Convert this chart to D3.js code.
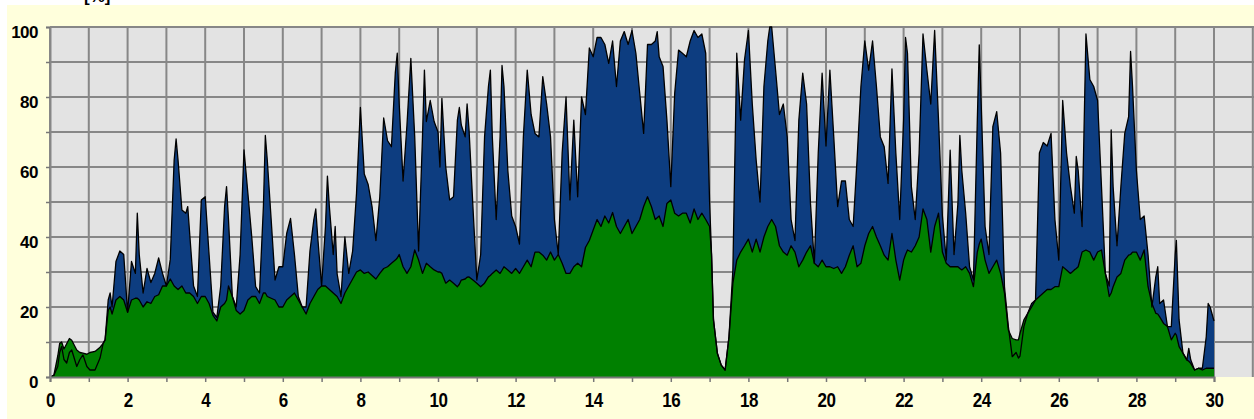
<!DOCTYPE html>
<html>
<head>
<meta charset="utf-8">
<script src="https://cdn.jsdelivr.net/npm/d3@7"></script>
<style>
  html, body { margin: 0; padding: 0; background: #fff; overflow: hidden; }
</style>
</head>
<body>
<div id="chart"></div>
<script>
// --- data --------------------------------------------------------------
// x position (0..30) of every sample, then the two stacked series
const hours = [
  0, 0.1, 0.2, 0.25, 0.3, 0.36, 0.43, 0.5, 0.56, 0.69, 0.77, 0.85, 0.95, 1.03, 1.16, 1.29, 1.37, 1.42,
  1.5, 1.55, 1.6, 1.7, 1.8, 1.9, 2.0, 2.1, 2.2, 2.25, 2.3, 2.4, 2.5, 2.6, 2.7, 2.8, 2.9,
  3.0, 3.1, 3.2, 3.25, 3.3, 3.4, 3.5, 3.55, 3.6, 3.7, 3.8, 3.9, 4.0, 4.1, 4.2, 4.3, 4.4,
  4.5, 4.55, 4.6, 4.7, 4.8, 4.9, 5.0, 5.1, 5.2, 5.3, 5.4, 5.5, 5.55, 5.6, 5.7, 5.8, 5.9,
  6.0, 6.1, 6.2, 6.3, 6.4, 6.5, 6.6, 6.7, 6.8, 6.85, 6.9, 7.0, 7.1, 7.15, 7.2, 7.3, 7.35, 7.4,
  7.5, 7.6, 7.7, 7.8, 7.9, 8.0, 8.1, 8.2, 8.3, 8.4, 8.5, 8.6, 8.7, 8.8, 8.9, 8.95,
  9.0, 9.1, 9.2, 9.3, 9.4, 9.5, 9.6, 9.65, 9.7, 9.8, 9.9, 10.0, 10.05, 10.1, 10.2, 10.3, 10.4,
  10.5, 10.55, 10.6, 10.7, 10.75, 10.8, 10.9, 11.0, 11.1, 11.2, 11.3, 11.35, 11.4, 11.5, 11.6, 11.65, 11.7, 11.8, 11.9,
  12.0, 12.1, 12.2, 12.3, 12.4, 12.5, 12.6, 12.7, 12.8, 12.9, 13.0, 13.1, 13.2, 13.3, 13.4,
  13.5, 13.6, 13.7, 13.8, 13.9, 14.0, 14.1, 14.2, 14.3, 14.4, 14.5, 14.6, 14.7, 14.8, 14.9,
  15.0, 15.1, 15.2, 15.3, 15.4, 15.5, 15.6, 15.65, 15.7, 15.8, 15.9, 16.0, 16.1, 16.2, 16.3, 16.4,
  16.5, 16.6, 16.7, 16.8, 16.9, 17.0, 17.05, 17.1, 17.2, 17.3, 17.4, 17.5, 17.6, 17.7, 17.8, 17.9,
  18.0, 18.1, 18.2, 18.3, 18.4, 18.5, 18.55, 18.6, 18.7, 18.8, 18.9, 19.0, 19.1, 19.2, 19.3, 19.4,
  19.5, 19.6, 19.7, 19.8, 19.9, 20.0, 20.1, 20.2, 20.3, 20.4, 20.5, 20.6, 20.7, 20.8, 20.9,
  21.0, 21.1, 21.2, 21.3, 21.4, 21.5, 21.6, 21.7, 21.8, 21.9, 22.0, 22.05, 22.1, 22.2, 22.3, 22.4,
  22.5, 22.6, 22.7, 22.8, 22.9, 23.0, 23.1, 23.2, 23.3, 23.4, 23.45, 23.5, 23.6, 23.7, 23.8, 23.9, 23.95,
  24.0, 24.1, 24.2, 24.3, 24.4, 24.5, 24.6, 24.7, 24.8, 24.9, 24.96, 25.0, 25.1, 25.2, 25.3, 25.4,
  25.5, 25.6, 25.7, 25.8, 25.9, 26.0, 26.1, 26.2, 26.3, 26.4, 26.45, 26.5, 26.6, 26.7, 26.8, 26.9,
  27.0, 27.1, 27.2, 27.3, 27.35, 27.4, 27.5, 27.6, 27.7, 27.8, 27.85, 27.9, 28.0, 28.1, 28.2, 28.3, 28.4,
  28.5, 28.55, 28.6, 28.7, 28.8, 28.9, 29.0, 29.03, 29.1, 29.2, 29.3, 29.35, 29.4, 29.5, 29.6, 29.7, 29.8, 29.85, 29.9, 30.0
];

// upper (blue) series
const peakLoad = [
  0, 0.5, 3, 7, 8.7, 5, 4, 7, 7.7, 3, 5, 6.3, 3, 2, 2, 5.4, 9.6, 10.6,
  22, 24, 20, 33, 36, 35, 18.5, 33, 29.6, 46.8, 35, 24, 31, 27, 29.6, 34, 29.6,
  26, 33.6, 62, 68, 62, 47.7, 46.8, 48.7, 41, 26, 23, 50.6, 51.5, 35, 18.5, 17, 26,
  48.7, 54.4, 45, 23, 20, 35, 64.9, 52.5, 40, 25.8, 24, 48.7, 69, 62, 45, 27.7, 31.5,
  31.5, 41, 45.3, 35, 23, 20, 20, 36, 45, 48, 40, 26, 43, 57.4, 48.7, 35, 43, 29.5,
  23, 40, 29.6, 36, 52.5, 77, 58, 55, 48.7, 39, 51.5, 74, 67.5, 65.8, 87, 92.5,
  78, 56, 72, 91, 68.6, 36, 68.6, 87.7, 73, 79, 73, 70, 60, 79.6, 60, 50.6, 51.5,
  73.4, 77, 72, 68.6, 78, 70.6, 48.7, 27.7, 35, 68.6, 83, 87.7, 68.6, 45, 68.6, 89, 83, 59, 46,
  43, 38, 68.6, 87.7, 75, 69.6, 68.6, 85.8, 78, 68.6, 45, 35, 64, 80, 50.6,
  73.4, 51.5, 80, 75, 94, 91.5, 97, 97, 95, 89.6, 96, 83, 96, 98.7, 95,
  99, 92.5, 81, 69.6, 95, 95, 96, 98.7, 91.5, 88.7, 73.4, 54.4, 81, 93.4, 92.5, 91.5,
  96, 99, 97, 98, 92.5, 50, 35, 16.3, 6.8, 3.4, 2, 11.5, 30.6, 92.5, 73.4, 90.6,
  99, 78, 62, 50, 83, 96, 100, 100, 87.7, 75, 78, 68.6, 45, 39, 73.4, 86.8,
  78, 49.6, 32.5, 64, 86.8, 66, 87.7, 68.6, 48.7, 56, 56, 45, 43, 62, 83,
  96, 87.7, 96, 83, 68.6, 65.8, 55.3, 88, 64, 45, 73.4, 97, 92.5, 54.4, 45, 64,
  98, 87.7, 78, 99, 73.4, 46, 33.4, 64.8, 35, 49.6, 69, 59, 46.8, 31.5, 27.7, 73.4, 94.9,
  78, 43, 35, 71.5, 75.8, 64, 25.8, 14.4, 5.8, 7, 5.4, 6, 14.4, 18.2, 21, 22,
  64, 67, 66, 69.6, 45, 33.4, 79, 64, 54.4, 46.8, 63, 59, 43, 98, 85, 83,
  79, 54.4, 29.6, 26, 70.6, 54.4, 37.5, 54.4, 69.6, 74.4, 93, 83, 59, 45, 46, 35, 20,
  28.6, 31.5, 21, 22, 14.4, 14.4, 35, 39, 16.3, 6.8, 4.9, 8.2, 4.9, 2, 2.5, 2.5, 11.5, 21, 20, 16
];

// lower (green) series
const baseLoad = [
  0, 0.5, 6, 9.6, 10, 8, 9.5, 11, 10.5, 7.7, 7, 6.8, 6.5, 7, 7.3, 8.5, 9.6, 10.6,
  19, 20, 18, 22, 23, 22, 18.5, 22, 22.5, 22.5, 22, 20, 21.5, 21, 23, 23.5, 26,
  26, 28, 26, 25.5, 25, 26, 24, 24, 24, 23, 21, 23, 23, 21, 17.6, 16, 20,
  21, 22, 26, 23, 19, 18, 19, 22, 23, 23, 21, 24, 24, 23, 22.5, 22, 20,
  20, 22, 23, 24, 22, 20, 18, 21, 23, 24, 25, 26, 26, 25.5, 25, 24, 23.5, 23,
  21, 24, 26, 28, 30, 30.6, 29.6, 30, 29, 28, 29.6, 31, 31.5, 32.5, 33.4, 34,
  35, 31.5, 29.6, 31.5, 36.3, 33.4, 29.6, 31, 32.5, 31.5, 30.6, 30, 30, 29.6, 26.8, 27.7, 26.8,
  25.8, 26.5, 27.7, 28, 28.5, 28.6, 27.7, 26.8, 25.8, 26.8, 28.6, 29, 29.6, 30.6, 29.6, 30.5, 31.5, 30.6, 29.6,
  31, 29.6, 31.5, 33.4, 31.5, 35.7, 35.7, 34.8, 33.4, 35.7, 33.4, 35, 32.5, 29.6, 29.6,
  31.5, 32.5, 31.5, 37, 39, 42, 45, 43, 46, 44, 47, 43, 41, 43, 45,
  41, 43, 45, 48.7, 51.5, 48.7, 45, 45.5, 46, 43, 49.6, 50.6, 46.8, 46, 46.8, 46.8,
  44, 48, 45, 46.8, 45, 43, 35, 16.3, 6.8, 3.4, 2, 11.5, 26.8, 33.4, 35.7, 37.5,
  39.4, 35.7, 39.4, 35.7, 40, 43, 44, 45, 43, 37.5, 35.7, 34.8, 37.5, 35.7, 31.5, 33.4,
  35.7, 37.5, 32.5, 31.5, 33.4, 31.5, 31.5, 31, 31.5, 29.6, 31.5, 34.8, 37.5, 31.5, 32.5,
  37.5, 41, 43, 40, 37.5, 34.8, 33.4, 41, 33.4, 27.7, 33.4, 35, 36.3, 35.7, 37.5, 40,
  48, 45, 35.7, 43, 46.8, 35.7, 32.5, 31.5, 31.5, 31.5, 31, 30.6, 31.5, 29.6, 25.8, 35.7, 38,
  39.4, 33.4, 29.6, 31.5, 33.4, 29.6, 24, 13.4, 11, 10.6, 10.6, 12.5, 16.3, 18.2, 20, 22,
  23, 24, 25, 25, 25.8, 25.8, 31.5, 30.6, 29.6, 30.6, 31, 31.5, 35.7, 36.3, 35.7, 33.4,
  35.7, 36.3, 29.6, 23, 24, 25.8, 28.6, 29.6, 33.4, 34.8, 35, 35.7, 35.7, 33.4, 36.3, 25.8, 21,
  18.2, 18, 17.2, 15.3, 14.4, 10.6, 12.5, 12, 8.7, 6.8, 4.9, 4.5, 3.9, 2, 2.5, 2, 2.5, 2.5, 2.5, 2.5
];

const xLabelTicks = d3.range(0, 31, 2);
const yLabelTicks = [0, 20, 40, 60, 80, 100];

// --- layout ---------------------------------------------------------------
const W = 1254, H = 419;
const plot = { left: 50, top: 27, bottom: 377, right: W };

const svg = d3.select('#chart').append('svg')
  .attr('width', W).attr('height', H)
  .style('display', 'block');

// pale yellow panel (white sliver on left/top edge as in the source)
svg.append('rect').attr('x', 7).attr('y', 5).attr('width', W - 7).attr('height', H - 5)
  .attr('fill', '#ffffdc');

// cut-off title at the top
svg.append('text').attr('x', 84).attr('y', 2)
  .style('font', 'bold 17px "Liberation Sans", Arial, sans-serif')
  .attr('fill', '#000').text('[%]');

const x = d3.scaleLinear().domain([0, 30]).range([plot.left, 1214]);
const y = d3.scaleLinear().domain([0, 100]).range([plot.bottom, plot.top]);

svg.append('rect')
  .attr('x', plot.left).attr('y', plot.top)
  .attr('width', plot.right - plot.left).attr('height', plot.bottom - plot.top)
  .attr('fill', '#e3e3e3');

// grid
const grid = svg.append('g').attr('stroke', '#878787').attr('stroke-width', 2);
grid.selectAll('.vx').data(d3.range(0, 32)).join('line')
  .attr('x1', (d) => x(d)).attr('x2', (d) => x(d))
  .attr('y1', plot.top).attr('y2', plot.bottom);
grid.selectAll('.hy').data(d3.range(10, 101, 10)).join('line')
  .attr('x1', plot.left).attr('x2', plot.right)
  .attr('y1', (d) => y(d)).attr('y2', (d) => y(d));

// areas
const idx = d3.range(hours.length);
const areaOf = (vals) => d3.area()
  .x((i) => x(hours[i])).y0(y(0)).y1((i) => y(vals[i]));
const lineOf = (vals) => d3.line()
  .x((i) => x(hours[i])).y((i) => y(vals[i]));

svg.append('path').datum(idx).attr('d', areaOf(peakLoad)).attr('fill', '#0d3d80');
svg.append('path').datum(idx).attr('d', areaOf(baseLoad)).attr('fill', '#008000');
svg.append('path').datum(idx).attr('d', lineOf(peakLoad))
  .attr('fill', 'none').attr('stroke', '#000').attr('stroke-width', 1.3).attr('stroke-linejoin', 'round');
svg.append('path').datum(idx).attr('d', lineOf(baseLoad))
  .attr('fill', 'none').attr('stroke', '#000').attr('stroke-width', 1.3).attr('stroke-linejoin', 'round');

// axes
const labelFont = 'bold 17px "Liberation Sans", Arial, sans-serif';

const xAxis = svg.append('g').attr('transform', `translate(0,${plot.bottom})`)
  .call(d3.axisBottom(x).tickValues(d3.range(0, 31)).tickSize(5)
    .tickFormat((d) => (xLabelTicks.includes(d) ? d : '')));
xAxis.select('.domain').attr('stroke', '#777').attr('stroke-width', 2);
xAxis.selectAll('.tick line').attr('stroke', '#777').attr('stroke-width', 1.5);
xAxis.selectAll('.tick text')
  .attr('y', 25).attr('dy', null)
  .attr('transform', 'scale(1,1.2)')
  .style('font', labelFont).style('letter-spacing', '-0.5px').attr('fill', '#000');

const yAxis = svg.append('g').attr('transform', `translate(${plot.left},0)`)
  .call(d3.axisLeft(y).tickValues(d3.range(0, 101, 10)).tickSize(4)
    .tickFormat((d) => (yLabelTicks.includes(d) ? d : '')));
yAxis.select('.domain').attr('stroke', '#878787').attr('stroke-width', 2);
yAxis.selectAll('.tick line').attr('stroke', '#777').attr('stroke-width', 1.5);
yAxis.selectAll('.tick text')
  .attr('x', -12).attr('y', 10).attr('dy', null)
  .style('font', labelFont).style('letter-spacing', '-0.5px').attr('fill', '#000');
</script>
</body>
</html>
